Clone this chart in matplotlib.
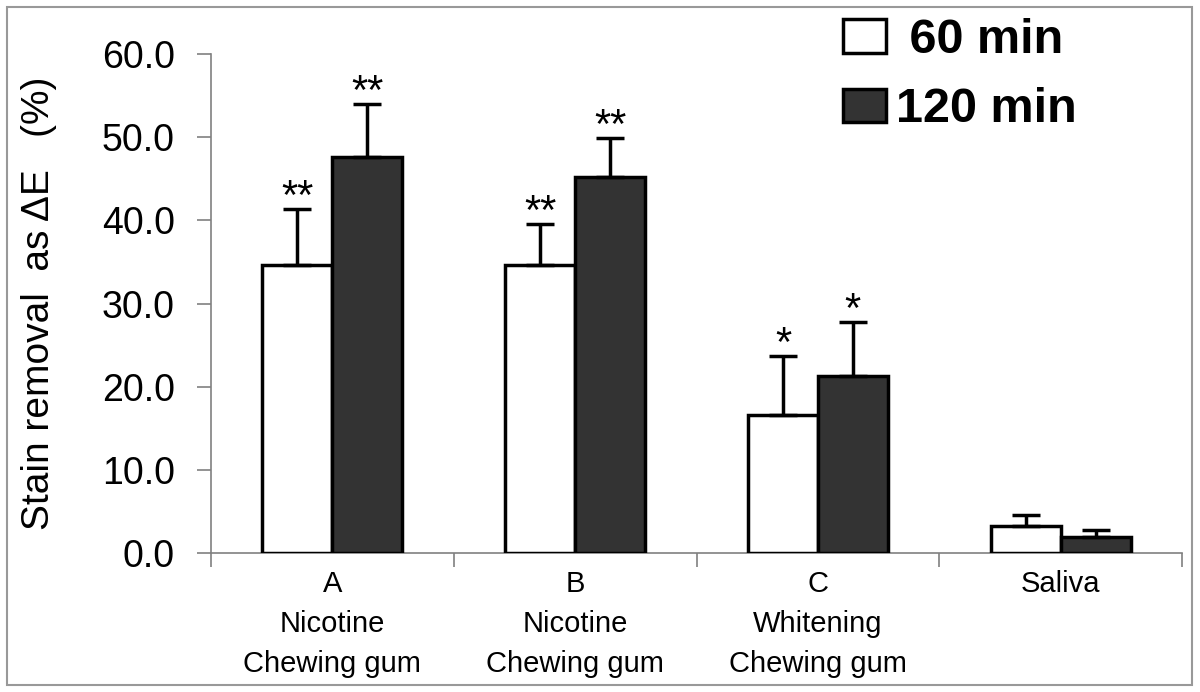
import matplotlib
matplotlib.use("Agg")
import matplotlib.pyplot as plt
from matplotlib.patches import Rectangle
import numpy as np

# data
groups = ["A\nNicotine\nChewing gum", "B\nNicotine\nChewing gum",
          "C\nWhitening\nChewing gum", "Saliva"]
min60 = [34.6, 34.6, 16.6, 3.2]
min60_err = [6.8, 5.0, 7.1, 1.4]
min120 = [47.6, 45.2, 21.3, 1.9]
min120_err = [6.4, 4.7, 6.5, 0.9]
stars60 = ["**", "**", "*", ""]
stars120 = ["**", "**", "*", ""]
series_labels = [" 60 min", "120 min"]

plt.rcParams['font.family'] = ['Liberation Sans', 'DejaVu Sans']

fig = plt.figure(figsize=(12, 6.92), dpi=100)
ax = fig.add_axes([211 / 1200, 1 - 553 / 692, (1182 - 211) / 1200, (553 - 54) / 692])

x = np.arange(len(groups)) + 0.5
w = 0.288
edge = dict(edgecolor='black', linewidth=2.5)
err = dict(ecolor='black', elinewidth=2.5, capsize=10, capthick=2.5)

b1 = ax.bar(x - w / 2, min60, w, color='white', yerr=[np.zeros(4), min60_err],
            error_kw=err, zorder=3, **edge)
b2 = ax.bar(x + w / 2, min120, w, color='#333333', yerr=[np.zeros(4), min120_err],
            error_kw=err, zorder=3, **edge)

for xi, v, e, s in zip(x - w / 2, min60, min60_err, stars60):
    if s:
        ax.annotate(s, (xi, v + e), xytext=(0, 0), textcoords='offset points',
                    ha='center', va='baseline', fontsize=30)
for xi, v, e, s in zip(x + w / 2, min120, min120_err, stars120):
    if s:
        ax.annotate(s, (xi, v + e), xytext=(0, 0), textcoords='offset points',
                    ha='center', va='baseline', fontsize=30)

ax.set_xlim(0, 4)
ax.set_ylim(0, 60)
ax.set_yticks(np.arange(0, 61, 10))
ax.set_yticklabels([f"{t:.1f}" for t in np.arange(0, 61, 10)], fontsize=27)
ax.set_xticks(x)
ax.set_xticklabels(groups, fontsize=21, linespacing=1.55, va='top')
ax.set_xticks(np.arange(0, 5), minor=True)
ax.tick_params(axis='x', which='major', length=0, pad=12)
ax.tick_params(axis='x', which='minor', length=10, color='#808080', width=1.2, direction='out')
ax.tick_params(axis='y', length=10, color='#808080', width=1.2, pad=16)

for sp in ['top', 'right']:
    ax.spines[sp].set_visible(False)
for sp in ['left', 'bottom']:
    ax.spines[sp].set_color('#808080')
    ax.spines[sp].set_linewidth(1.2)

ax.set_ylabel("Stain removal  as \u0394E   (%)", fontsize=28, labelpad=32)

ax.legend([b1, b2], series_labels, loc='upper left', bbox_to_anchor=(843 / 1200, 1 - 18 / 692),
          bbox_transform=fig.transFigure, frameon=False,
          prop=dict(weight='bold', size=35), handlelength=0.88, handleheight=0.68,
          handletextpad=0.2, labelspacing=0.5, borderpad=0, borderaxespad=0)

fig.patches.append(Rectangle((7 / 1200, 1 - 685 / 692), 1185 / 1200, 678 / 692,
                             transform=fig.transFigure, fill=False,
                             edgecolor='#999999', linewidth=1.5))

fig.savefig("out.png", dpi=100)
